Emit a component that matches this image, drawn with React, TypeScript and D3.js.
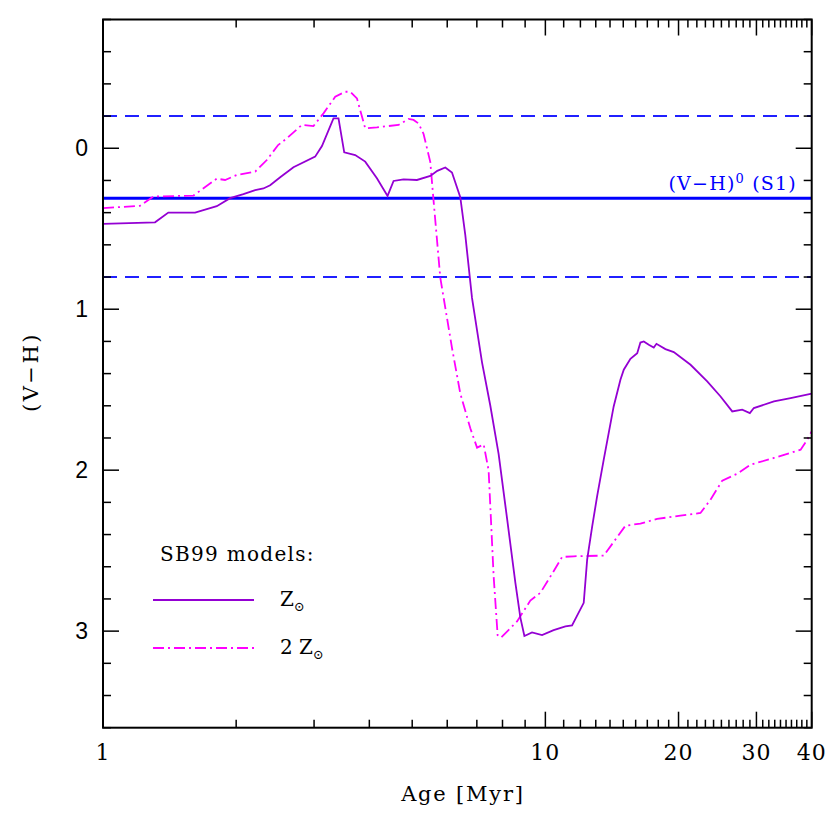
import React from "react";
import * as d3 from "d3";

// Z_sun model (solid)
const agesZ1 = [1.0, 1.311, 1.405, 1.615, 1.808, 1.938, 2.077, 2.208, 2.305, 2.387, 2.515, 2.695, 3.017, 3.126, 3.319, 3.407, 3.51, 3.716, 3.915, 4.161, 4.398, 4.538, 4.779, 5.125, 5.494, 5.698, 5.94, 6.15, 6.422, 6.592, 6.826, 7.191, 7.509, 7.841, 8.192, 8.555, 8.78, 8.966, 9.33, 9.829, 10.44, 11.1, 11.49, 12.21, 12.43, 12.76, 13.09, 13.55, 14.27, 14.78, 15.04, 15.57, 16.13, 16.4, 16.69, 17.13, 17.58, 17.83, 18.68, 19.51, 21.29, 23.22, 24.89, 26.45, 27.86, 28.99, 29.6, 32.86, 35.84, 40];
const vhZ1 = [0.47, 0.46, 0.40, 0.40, 0.36, 0.31, 0.285, 0.26, 0.25, 0.23, 0.18, 0.118, 0.052, -0.014, -0.186, -0.186, 0.025, 0.042, 0.083, 0.186, 0.296, 0.203, 0.193, 0.197, 0.172, 0.14, 0.119, 0.151, 0.304, 0.54, 0.93, 1.33, 1.6, 1.9, 2.3, 2.7, 2.916, 3.03, 3.008, 3.025, 2.994, 2.97, 2.965, 2.824, 2.556, 2.349, 2.163, 1.935, 1.604, 1.438, 1.376, 1.308, 1.273, 1.207, 1.2, 1.221, 1.238, 1.215, 1.248, 1.266, 1.345, 1.449, 1.542, 1.635, 1.624, 1.645, 1.614, 1.573, 1.552, 1.525];

// 2 Z_sun model (dash-dot)
const agesZ2 = [1.0, 1.212, 1.3, 1.601, 1.808, 1.888, 2.007, 2.208, 2.346, 2.488, 2.604, 2.816, 2.991, 3.151, 3.349, 3.528, 3.622, 3.75, 3.915, 4.161, 4.656, 4.905, 5.035, 5.168, 5.305, 5.494, 5.588, 5.787, 6.15, 6.422, 6.766, 7.008, 7.253, 7.442, 7.638, 7.8, 7.94, 8.63, 9.247, 9.743, 10.44, 10.91, 11.59, 13.55, 15.17, 16.4, 17.89, 20.2, 22.42, 23.62, 25.11, 27.15, 29.1, 32.86, 37.76, 39.09, 40];
const vhZ2 = [0.372, 0.358, 0.30, 0.294, 0.189, 0.197, 0.166, 0.145, 0.073, -0.02, -0.062, -0.145, -0.138, -0.217, -0.32, -0.351, -0.351, -0.31, -0.124, -0.13, -0.145, -0.182, -0.176, -0.154, -0.089, 0.086, 0.325, 0.804, 1.24, 1.523, 1.74, 1.86, 1.84, 2.0, 2.655, 3.025, 3.04, 2.94, 2.81, 2.762, 2.628, 2.539, 2.535, 2.531, 2.345, 2.332, 2.303, 2.282, 2.266, 2.183, 2.065, 2.022, 1.966, 1.924, 1.873, 1.81, 1.759];

const refLine = 0.31;
const refBand = [-0.2, 0.8];

const xLabeled = [1, 10, 20, 30, 40];
const xMajor = [1, 10, 20, 30, 40];
const xMinor = [2, 3, 4, 5, 6, 7, 8, 9, 11, 12, 13, 14, 15, 16, 17, 18, 19, 21, 22, 23, 24, 25, 26, 27, 28, 29, 31, 32, 33, 34, 35, 36, 37, 38, 39];
const yMajor = [0, 1, 2, 3];
const yMinor = d3.range(-0.8, 3.61, 0.2).map((v) => Math.round(v * 10) / 10).filter((v) => !yMajor.includes(v));

const L = 103, R = 811.7, T = 19.5, B = 727.7;
const serif = "'DejaVu Serif', serif";

export default function App() {
  const x = d3.scaleLog().domain([1, 40]).range([L, R]);
  const y = d3.scaleLinear().domain([-0.8, 3.6]).range([T, B]);
  const line = d3.line<number>().x((d) => d[0]).y((d) => d[1]);
  const p1 = line(agesZ1.map((a, i) => [x(a), y(vhZ1[i])]) as any);
  const p2 = line(agesZ2.map((a, i) => [x(a), y(vhZ2[i])]) as any);
  const purple = "#9400d3";
  const magenta = "#ff00ff";
  const blue = "#0000ff";
  const dashDot = "11,4,2,4";
  const maj = 16, mn = 8;

  return (
    <svg width={830} height={830} style={{ position: "absolute", left: 0, top: 0, background: "#fff" }}>
      <defs>
        <clipPath id="plot"><rect x={L} y={T} width={R - L} height={B - T} /></clipPath>
      </defs>
      <g clipPath="url(#plot)">
        {refBand.map((v) => (
          <line key={v} x1={L} x2={R} y1={y(v)} y2={y(v)} stroke="#2020ff" strokeWidth={2} strokeDasharray="14,8" />
        ))}
        <line x1={L} x2={R} y1={y(refLine)} y2={y(refLine)} stroke={blue} strokeWidth={3} />
        <path d={p2 || ""} fill="none" stroke={magenta} strokeWidth={1.8} strokeDasharray={dashDot} />
        <path d={p1 || ""} fill="none" stroke={purple} strokeWidth={1.8} />
      </g>
      {/* ticks */}
      <g stroke="#000" strokeWidth={1.5}>
        {xMajor.map((v) => (
          <g key={"xM" + v}>
            <line x1={x(v)} x2={x(v)} y1={B} y2={B - maj} />
            <line x1={x(v)} x2={x(v)} y1={T} y2={T + maj} />
          </g>
        ))}
        {xMinor.map((v) => (
          <g key={"xm" + v}>
            <line x1={x(v)} x2={x(v)} y1={B} y2={B - mn} />
            <line x1={x(v)} x2={x(v)} y1={T} y2={T + mn} />
          </g>
        ))}
        {yMajor.map((v) => (
          <g key={"yM" + v}>
            <line x1={L} x2={L + maj} y1={y(v)} y2={y(v)} />
            <line x1={R} x2={R - maj} y1={y(v)} y2={y(v)} />
          </g>
        ))}
        {yMinor.map((v) => (
          <g key={"ym" + v}>
            <line x1={L} x2={L + mn} y1={y(v)} y2={y(v)} />
            <line x1={R} x2={R - mn} y1={y(v)} y2={y(v)} />
          </g>
        ))}
      </g>
      <rect x={L} y={T} width={R - L} height={B - T} fill="none" stroke="#000" strokeWidth={2} />
      {/* tick labels */}
      {xLabeled.map((v) => (
        <text key={"xl" + v} x={x(v)} y={760} textAnchor="middle" fontFamily={serif} fontSize={22} letterSpacing={1} fill="#000">{v}</text>
      ))}
      {yMajor.map((v) => (
        <text key={"yl" + v} x={88} y={y(v) + 8} textAnchor="end" fontFamily="'Liberation Sans', sans-serif" fontSize={23} fill="#000">{v}</text>
      ))}
      {/* axis titles */}
      <text x={463} y={801} textAnchor="middle" fontFamily={serif} fontSize={21} letterSpacing={1.8} fill="#000">Age [Myr]</text>
      <text transform="translate(38,372) rotate(-90)" textAnchor="middle" fontFamily={serif} fontSize={21} letterSpacing={2.5} fill="#000">(V−H)</text>
      {/* reference label */}
      <text x={797} y={190} textAnchor="end" fontFamily={serif} fontSize={19} letterSpacing={1.2} fill={blue}>
        (V−H)<tspan fontSize={13} dy={-7}>0</tspan><tspan dy={7}> (S1)</tspan>
      </text>
      {/* legend */}
      <text x={160} y={561} fontFamily={serif} fontSize={20} letterSpacing={1.3} fill="#000">SB99 models:</text>
      <line x1={153} x2={254} y1={600} y2={600} stroke={purple} strokeWidth={1.8} />
      <line x1={153} x2={254} y1={648} y2={648} stroke={magenta} strokeWidth={1.8} strokeDasharray={dashDot} />
      <text x={280} y={606} fontFamily={serif} fontSize={20} fill="#000">Z<tspan fontSize={13} dy={5}>⊙</tspan></text>
      <text x={280} y={654} fontFamily={serif} fontSize={20} fill="#000">2 Z<tspan fontSize={13} dy={5}>⊙</tspan></text>
    </svg>
  );
}
